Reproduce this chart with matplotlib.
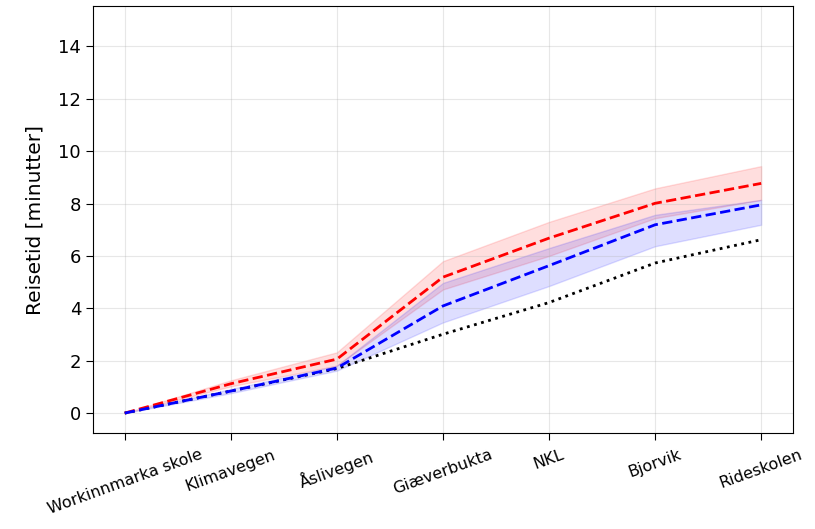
import matplotlib
matplotlib.use("Agg")
import matplotlib.pyplot as plt
import numpy as np

# --- Dados ---
stopp = ["Workinnmarka skole", "Klimavegen", "Åslivegen", "Giæverbukta", "NKL", "Bjorvik", "Rideskolen"]

rod_snitt = [0.0, 1.12, 2.06, 5.19, 6.68, 8.01, 8.77]
rod_lav = [0.0, 1.02, 1.81, 4.72, 6.0, 7.44, 8.14]
rod_hoy = [0.0, 1.25, 2.32, 5.8, 7.3, 8.58, 9.43]

bla_snitt = [0.0, 0.84, 1.72, 4.09, 5.63, 7.19, 7.95]
bla_lav = [0.0, 0.76, 1.62, 3.46, 4.85, 6.37, 7.19]
bla_hoy = [0.0, 0.92, 1.81, 4.97, 6.3, 7.57, 8.14]

svart = [0.0, 0.84, 1.70, 3.01, 4.22, 5.73, 6.62]

x = np.arange(len(stopp))

fig = plt.figure(figsize=(8.15, 5.29), dpi=100)
ax = fig.add_axes([0.114, 0.181, 0.859, 0.808])

ax.fill_between(x, rod_lav, rod_hoy, color='red', alpha=0.13, linewidth=1)
ax.fill_between(x, bla_lav, bla_hoy, color='blue', alpha=0.13, linewidth=1)
ax.plot(x, svart, color='black', linestyle=':', linewidth=2)
ax.plot(x, rod_snitt, color='red', linestyle='--', linewidth=2)
ax.plot(x, bla_snitt, color='blue', linestyle='--', linewidth=2)

ax.set_ylim(-0.77, 15.55)
ax.set_yticks(range(0, 15, 2))
ax.set_xticks(x)
ax.set_xticklabels(stopp, rotation=20, fontsize=11.5)
ax.tick_params(axis='y', labelsize=13)
ax.tick_params(length=5)
ax.tick_params(axis='x', pad=5)
ax.set_ylabel("Reisetid [minutter]", fontsize=14.5, labelpad=10)
ax.grid(True, alpha=0.3)

plt.savefig("out.png", dpi=100)
